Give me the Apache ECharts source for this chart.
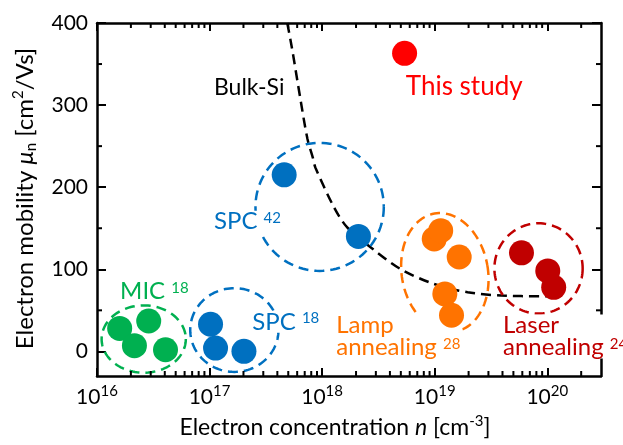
<!DOCTYPE html>
<html><head><meta charset="utf-8">
<script src="https://cdn.jsdelivr.net/npm/echarts@6/dist/echarts.min.js"></script>
<style>html,body{margin:0;padding:0;background:#fff}#c{width:623px;height:445px}</style>
</head><body><div id="c"></div>
<script>
// ---------- data ----------
const xMajorTicks = [1e16, 1e17, 1e18, 1e19, 1e20];
const xMinorTicks = [2e16,3e16,4e16,5e16,6e16,7e16,8e16,9e16,
  2e17,3e17,4e17,5e17,6e17,7e17,8e17,9e17,
  2e18,3e18,4e18,5e18,6e18,7e18,8e18,9e18,
  2e19,3e19,4e19,5e19,6e19,7e19,8e19,9e19, 2e20];
const yMajorTicks = [0, 100, 200, 300, 400];
const yMinorTicks = [50, 150, 250, 350];

const thisStudy = [[5.4e18, 363]];
const spc42 = [[4.6e17, 215], [2.1e18, 140]];
const spc18 = [[1.02e17, 33], [1.13e17, 4], [2.02e17, 0]];
const mic = [[1.59e16, 28], [2.88e16, 37], [2.15e16, 7], [4.06e16, 2]];
const lamp = [[9.9e18, 137], [1.13e19, 147], [1.65e19, 115], [1.23e19, 70], [1.41e19, 44]];
const laser = [[5.9e19, 120], [1.01e20, 98], [1.14e20, 78]];

const bulkSiN  = [4.9e17, 5.4e17, 6.4e17, 7.4e17, 8.3e17, 8.7e17, 1.27e18, 1.67e18, 2.8e18, 5.0e18, 9.9e18, 1.96e19, 3.9e19, 1.0e20];
const bulkSiMu = [400, 369, 308, 259, 235, 224, 176, 151, 125, 100, 82, 72, 68, 67];

// group rings: [center n, center mu, half-width (decades), half-height (mu), rotation deg]
const micRing   = [2.6e16, 15, 0.374, 41, 0];
const spc18Ring = [1.66e17, 26, 0.392, 51, 0];
const spc42Ring = [9.5e17, 176, 0.57, 78, 0];
const lampRing  = [1.23e19, 96, 0.383, 73, -10];
const laserRing = [8.36e19, 101, 0.392, 55, 0];

// annotation labels
const labelText = ['Bulk-Si', 'This study', 'SPC ', 'MIC ', 'SPC ', 'Lamp\nannealing ', 'Laser\nannealing '];
const labelRef  = ['', '', '42', '18', '18', '28', '24'];
const labelN    = [1.05e17, 5.31e18, 1.05e17, 1.54e16, 2.3e17, 1.28e18, 3.88e19];
const labelMu   = [321, 323, 158, 73, 36, 18, 18];

// ---------- style ----------
const FONT = 'Lato';
const C = {black:'#000000', red:'#FF0000', blue:'#0070C0', green:'#00B050', orange:'#FF7300', dred:'#C00000'};
const labelColor = [C.black, C.red, C.blue, C.green, C.blue, C.orange, C.dred];
const labelSize  = [23, 26, 24, 24, 24, 24, 24];
const X_MIN = 1e16, X_MAX = 3e20, Y_MIN = -30, Y_MAX = 400;

function zip(a, b) { return a.map((v, i) => [v, b[i]]); }

function scatter(data, color) {
  return {type:'scatter', data, symbolSize:25, itemStyle:{color, opacity:1}, z:5, silent:true};
}

function ring(r, color) {
  return {
    type:'custom', data:[r], z:3, silent:true, clip:false,
    encode:{x:0, y:1},
    renderItem(params, api) {
      const cn = api.value(0), cm = api.value(1), rd = api.value(2), rm = api.value(3), rot = api.value(4) * Math.PI / 180;
      const c = api.coord([cn, cm]);
      const rx = api.coord([cn * Math.pow(10, rd), cm])[0] - c[0];
      const ry = c[1] - api.coord([cn, cm + rm])[1];
      const pts = [];
      const N = 120;
      for (let k = 0; k <= N; k++) {
        const t = k / N * Math.PI * 2;
        const x = rx * Math.cos(t), y = ry * Math.sin(t);
        pts.push([c[0] + x * Math.cos(rot) - y * Math.sin(rot), c[1] + x * Math.sin(rot) + y * Math.cos(rot)]);
      }
      return {type:'polyline', shape:{points:pts}, style:{fill:'none', stroke:color, lineWidth:2.5, lineDash:[10,6]}};
    }
  };
}

const chart = echarts.init(document.getElementById('c'), null, {renderer:'canvas'});

const xLabelRich = {
  b:{fontSize:21, fontFamily:FONT, color:'#000', lineHeight:26},
  s:{fontSize:15, fontFamily:FONT, color:'#000', lineHeight:17, verticalAlign:'top'}
};

const option = {
  animation:false,
  backgroundColor:'#fff',
  grid:{left:97, right:22, top:23, bottom:69, containLabel:false},
  xAxis:[{
    type:'log', logBase:10, min:X_MIN, max:X_MAX, position:'bottom',
    axisLine:{show:true, onZero:false, lineStyle:{color:'#000', width:2.5}},
    axisTick:{show:true, inside:true, length:8, lineStyle:{color:'#000', width:2}, customValues:xMajorTicks},
    axisLabel:{margin:8, customValues:xMajorTicks, rich:xLabelRich,
      formatter(v){ const e = Math.log10(v); if (Math.abs(e - Math.round(e)) > 1e-6) return ''; return '{b|10}{s|' + Math.round(e) + '}'; }},
    splitLine:{show:false}, minorTick:{show:false}, minorSplitLine:{show:false},
    name:'{t|Electron concentration }{i|n}{t| [cm}{s|-3}{t|]}',
    nameLocation:'middle', nameGap:38,
    nameTextStyle:{padding:[0,28,0,0], rich:{
      t:{fontSize:23, fontFamily:FONT, color:'#000', lineHeight:28},
      i:{fontSize:23, fontFamily:FONT, fontStyle:'italic', color:'#000', lineHeight:28},
      s:{fontSize:15, fontFamily:FONT, color:'#000', lineHeight:18, verticalAlign:'top'}
    }}
  },{
    type:'log', logBase:10, min:X_MIN, max:X_MAX, position:'top',
    axisLine:{show:true, onZero:false, lineStyle:{color:'#000', width:2.5}},
    axisTick:{show:true, inside:true, length:8, lineStyle:{color:'#000', width:2}, customValues:xMajorTicks},
    axisLabel:{show:false}, splitLine:{show:false}
  }],
  yAxis:[{
    type:'value', min:Y_MIN, max:Y_MAX, position:'left',
    axisLine:{show:true, onZero:false, lineStyle:{color:'#000', width:2.5}},
    axisTick:{show:true, inside:true, length:9, lineStyle:{color:'#000', width:2}, customValues:yMajorTicks},
    axisLabel:{margin:9, customValues:yMajorTicks, fontSize:21, fontFamily:FONT, color:'#000'},
    splitLine:{show:false},
    name:'{t|Electron mobility }{i|μ}{u|n}{t| [cm}{s|2}{t|/Vs]}',
    nameLocation:'middle', nameGap:58,
    nameTextStyle:{padding:[0,0,0,2], rich:{
      t:{fontSize:24, fontFamily:FONT, color:'#000', lineHeight:28},
      i:{fontSize:24, fontFamily:FONT, fontStyle:'italic', color:'#000', lineHeight:28},
      u:{fontSize:15, fontFamily:FONT, color:'#000', lineHeight:16, verticalAlign:'bottom'},
      s:{fontSize:15, fontFamily:FONT, color:'#000', lineHeight:18, verticalAlign:'top'}
    }}
  },{
    type:'value', min:Y_MIN, max:Y_MAX, position:'right',
    axisLine:{show:true, onZero:false, lineStyle:{color:'#000', width:2.5}},
    axisTick:{show:true, inside:true, length:9, lineStyle:{color:'#000', width:2}, customValues:yMajorTicks},
    axisLabel:{show:false}, splitLine:{show:false}
  }],
  series:[
    // minor ticks on x axes
    {type:'custom', data:xMinorTicks.map(v => [v, Y_MIN]), z:10, silent:true, clip:false, encode:{x:0, y:1},
      renderItem(params, api){
        const n = api.value(0);
        const b = api.coord([n, Y_MIN]), t = api.coord([n, Y_MAX]);
        return {type:'group', children:[
          {type:'line', shape:{x1:b[0], y1:b[1], x2:b[0], y2:b[1]-5}, style:{stroke:'#000', lineWidth:2}},
          {type:'line', shape:{x1:t[0], y1:t[1], x2:t[0], y2:t[1]+5}, style:{stroke:'#000', lineWidth:2}}
        ]};
      }},
    // minor ticks on y axes
    {type:'custom', data:yMinorTicks.map(v => [X_MIN, v]), z:10, silent:true, clip:false, encode:{x:0, y:1},
      renderItem(params, api){
        const m = api.value(1);
        const l = api.coord([X_MIN, m]), r = api.coord([X_MAX, m]);
        return {type:'group', children:[
          {type:'line', shape:{x1:l[0], y1:l[1], x2:l[0]+5, y2:l[1]}, style:{stroke:'#000', lineWidth:2}},
          {type:'line', shape:{x1:r[0], y1:r[1], x2:r[0]-5, y2:r[1]}, style:{stroke:'#000', lineWidth:2}}
        ]};
      }},
    {type:'line', data:zip(bulkSiN, bulkSiMu), symbol:'none', smooth:0.3, z:2, silent:true,
      lineStyle:{color:'#000', width:2.5, type:[10,6]}},
    ring(micRing, C.green), ring(spc18Ring, C.blue), ring(spc42Ring, C.blue), ring(lampRing, C.orange), ring(laserRing, C.dred),
    // labels
    {type:'custom', data:zip(labelN, labelMu), z:4, silent:true, clip:false, encode:{x:0, y:1},
      renderItem(params, api){
        const i = params.dataIndex;
        const p = api.coord([api.value(0), api.value(1)]);
        const col = labelColor[i], fs = labelSize[i];
        const lines = labelText[i].split('\n');
        let txt = lines.map(l => '{t|' + l + '}').join('\n');
        if (labelRef[i]) txt += '{s|' + labelRef[i] + '}';
        return {type:'text', x:p[0], y:p[1], z2:10, style:{
          text:txt, align:'left', verticalAlign:'middle', backgroundColor:'#fff', padding:[0,2],
          fill:col, fontSize:fs, fontFamily:FONT,
          rich:{
            t:{fill:col, fontSize:fs, fontFamily:FONT, lineHeight:22},
            s:{fill:col, fontSize:15, fontFamily:FONT, lineHeight:14, verticalAlign:'top'}
          }
        }};
      }},
    scatter(mic, C.green), scatter(spc18, C.blue), scatter(spc42, C.blue),
    scatter(lamp, C.orange), scatter(laser, C.dred), scatter(thisStudy, C.red)
  ]
};
chart.setOption(option);
</script>
</body></html>
